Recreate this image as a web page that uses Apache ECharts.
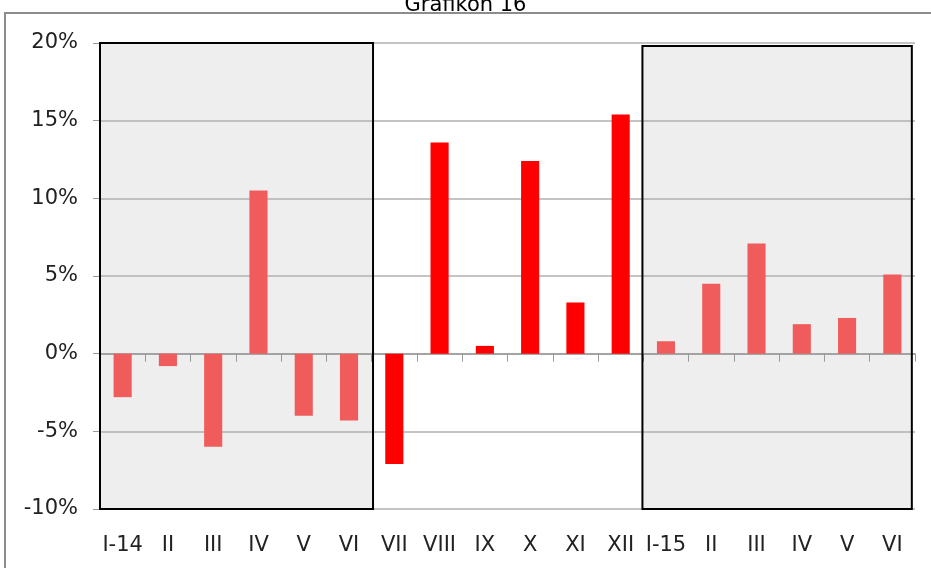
<!DOCTYPE html>
<html>
<head>
<meta charset="utf-8">
<script src="https://cdn.jsdelivr.net/npm/echarts@6/dist/echarts.min.js"></script>
<style>
  html, body { margin: 0; padding: 0; background: #fff; }
  #chart { width: 931px; height: 568px; }
</style>
</head>
<body>
<div id="chart"></div>
<script>
// podaci
var categories = ["I-14", "II", "III", "IV", "V", "VI", "VII", "VIII", "IX", "X", "XI", "XII", "I-15", "II", "III", "IV", "V", "VI"];
var values = [-2.8, -0.8, -6.0, 10.5, -4.0, -4.3, -7.1, 13.6, 0.5, 12.4, 3.3, 15.4, 0.8, 4.5, 7.1, 1.9, 2.3, 5.1];
// koje su kategorije u sivim okvirima (svjetlija boja)
var shaded = [1, 1, 1, 1, 1, 1, 0, 0, 0, 0, 0, 0, 1, 1, 1, 1, 1, 1];
var yTicks = [-10, -5, 0, 5, 10, 15, 20];

var chart = echarts.init(document.getElementById("chart"));

var barData = values.map(function (v, i) {
  return {
    value: v,
    itemStyle: { color: shaded[i] ? "#F05C5C" : "#FF0000" }
  };
});

// okviri (pomoćna os 0..18)
var boxes = [
  [{ xAxis: 0, yAxis: 20 }, { xAxis: 6.03, yAxis: -10 }],
  [{ xAxis: 11.98, yAxis: 19.8 }, { xAxis: 17.93, yAxis: -10.05 }]
];

var option = {
  animation: false,
  title: {
    text: "Grafikon 16",
    left: "center",
    top: -10,
    textStyle: { fontFamily: "DejaVu Sans", fontSize: 21, fontWeight: "normal", color: "#000" }
  },
  graphic: [
    {
      type: "rect",
      shape: { x: 5, y: 13, width: 960, height: 600 },
      style: { fill: "none", stroke: "#8c8c8c", lineWidth: 2 },
      z: 100
    }
  ],
  grid: { left: 100, right: 16, top: 43, bottom: 59 },
  xAxis: [
    {
      type: "category",
      data: categories,
      position: "bottom",
      axisLine: { show: false, onZero: false },
      axisTick: { show: false },
      axisLabel: { interval: 0, fontFamily: "DejaVu Sans", fontSize: 21, color: "#222", margin: 26 }
    },
    {
      // linija nule s crticama
      type: "category",
      data: categories,
      position: "bottom",
      z: 3,
      axisLine: { show: true, onZero: true, lineStyle: { color: "#999", width: 1.5 } },
      axisTick: { show: true, interval: 0, length: 8, lineStyle: { color: "#999" } },
      axisLabel: { show: false }
    },
    {
      // pomoćna os za okvire
      type: "value",
      min: 0,
      max: 18,
      show: false
    }
  ],
  yAxis: {
    type: "value",
    min: -10,
    max: 20,
    interval: 5,
    z: 3,
    axisLine: { show: false },
    axisTick: { show: true, length: 7, lineStyle: { color: "#999" } },
    axisLabel: {
      fontFamily: "DejaVu Sans",
      fontSize: 21,
      color: "#222",
      margin: 22,
      formatter: function (v) { return v + "%"; }
    },
    splitLine: { show: true, lineStyle: { color: "#b0b0b0", width: 1.5 } }
  },
  series: [
    {
      type: "bar",
      xAxisIndex: 2,
      data: [],
      silent: true,
      z: 0,
      markArea: {
        silent: true,
        z: 1,
        itemStyle: { color: "#EEEEEE", borderWidth: 0 },
        data: boxes
      }
    },
    {
      type: "bar",
      xAxisIndex: 2,
      data: [],
      silent: true,
      z: 4,
      markArea: {
        silent: true,
        z: 4,
        itemStyle: { color: "transparent", borderColor: "#000", borderWidth: 2 },
        data: boxes
      }
    },
    {
      type: "bar",
      xAxisIndex: 0,
      data: barData,
      barWidth: "40%",
      z: 5
    }
  ]
};

chart.setOption(option);
</script>
</body>
</html>
